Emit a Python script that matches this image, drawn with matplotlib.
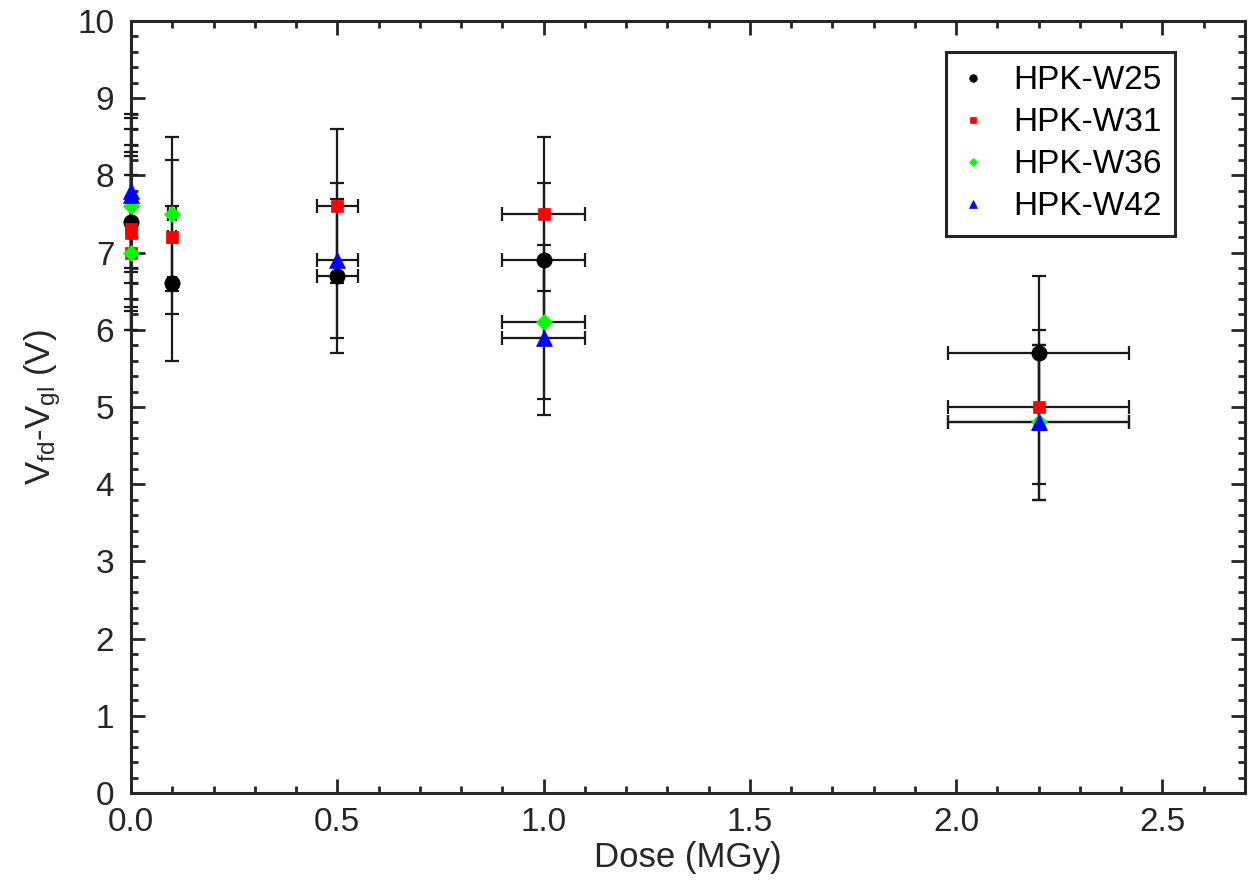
import numpy as np
import matplotlib.pyplot as plt
from matplotlib.ticker import MultipleLocator, FormatStrFormatter

plt.rcParams['font.family'] = ['Liberation Sans', 'DejaVu Sans']
plt.rcParams['mathtext.default'] = 'regular'

# dose (MGy) and Vfd - Vgl (V) per wafer
dose_w25 = [0.0, 0.1, 0.5, 1.0, 2.2]
v_w25 = [7.4, 6.6, 6.7, 6.9, 5.7]

dose_w31 = [0.0, 0.0, 0.0, 0.1, 0.5, 1.0, 2.2]
v_w31 = [7.3, 7.25, 7.0, 7.2, 7.6, 7.5, 5.0]

dose_w36 = [0.0, 0.0, 0.1, 1.0, 2.2]
v_w36 = [7.6, 7.0, 7.5, 6.1, 4.8]

dose_w42 = [0.0, 0.0, 0.5, 1.0, 2.2]
v_w42 = [7.8, 7.75, 6.9, 5.9, 4.8]

v_err = 1.0          # V
dose_rel_err = 0.10  # 10 % dosimetry uncertainty

series = [
    ('HPK-W25', dose_w25, v_w25, 'o', 'black', 11),
    ('HPK-W31', dose_w31, v_w31, 's', 'red', 8.5),
    ('HPK-W36', dose_w36, v_w36, 'D', 'lime', 8),
    ('HPK-W42', dose_w42, v_w42, '^', 'blue', 11),
]

fig = plt.figure(figsize=(12.56, 8.91), dpi=100)
ax = fig.add_axes([0.1043, 0.110, 0.8869, 0.8664])

for label, d, v, m, c, ms in series:
    d = np.array(d)
    ax.errorbar(d, v, yerr=v_err, xerr=d * dose_rel_err, fmt='none',
                ecolor='#1a1a1a', elinewidth=1.6, capsize=5, capthick=1.6,
                clip_on=False, zorder=2)
for label, d, v, m, c, ms in series:
    ax.plot(d, v, linestyle='none', marker=m, color=c, markersize=ms,
            markeredgewidth=0.5, label=label, clip_on=False, zorder=3)

ax.set_xlim(0, 2.7)
ax.set_ylim(0, 10)
ax.xaxis.set_major_locator(MultipleLocator(0.5))
ax.xaxis.set_minor_locator(MultipleLocator(0.1))
ax.xaxis.set_major_formatter(FormatStrFormatter('%.1f'))
ax.yaxis.set_major_locator(MultipleLocator(1))
ax.yaxis.set_minor_locator(MultipleLocator(0.2))

ax.tick_params(which='both', direction='in', top=True, right=True,
               colors='#262626', width=2, labelsize=24, labelcolor='#262626')
ax.tick_params(which='major', length=10, pad=10)
ax.tick_params(which='minor', length=5)
ax.tick_params(axis='y', which='major', pad=12)
for s in ax.spines.values():
    s.set_linewidth(2.2)
    s.set_color('#262626')

ax.set_xlabel('Dose (MGy)', fontsize=25, color='#262626', labelpad=2)
ax.set_ylabel('$V_{fd}$-$V_{gl}$ (V)', fontsize=25, color='#262626', labelpad=10)

leg = ax.legend(loc='upper right', bbox_to_anchor=(0.937, 0.960), fontsize=24,
                markerscale=0.5, fancybox=False, framealpha=1,
                handlelength=0.8, handletextpad=0.8, borderpad=0.4,
                labelspacing=0.33, borderaxespad=0)
leg.get_frame().set_edgecolor('#262626')
leg.get_frame().set_linewidth(2.2)

fig.savefig('out.png', dpi=100)
